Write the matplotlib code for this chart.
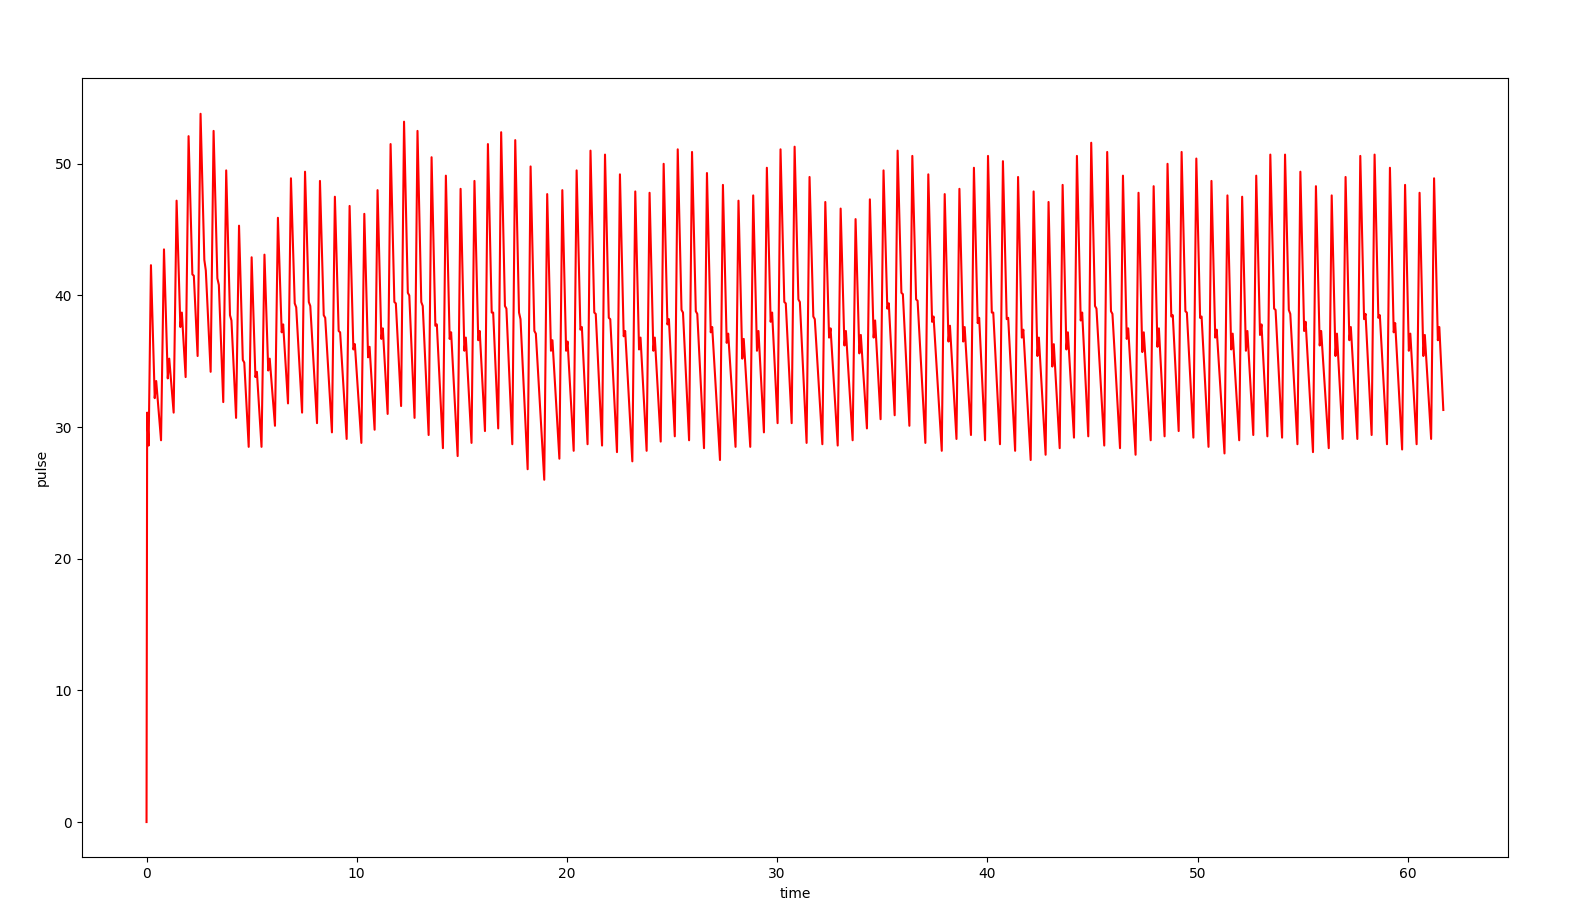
import matplotlib
matplotlib.use("Agg")
import matplotlib.pyplot as plt

# start of the recording (before first beat)
start_t = [0.0, 0.03, 0.10]
start_v = [0.0, 31.1, 28.6]

# one entry per beat: time and height of the systolic peak
peak_t = [0.21, 0.83, 1.43, 2.00, 2.57, 3.19, 3.79, 4.40, 5.00, 5.61,
          6.25, 6.87, 7.54, 8.25, 8.96, 9.66, 10.36, 10.99, 11.61, 12.25,
          12.89, 13.56, 14.24, 14.94, 15.60, 16.24, 16.87, 17.54, 18.27, 19.06,
          19.78, 20.46, 21.12, 21.81, 22.52, 23.25, 23.93, 24.60, 25.27, 25.95,
          26.66, 27.42, 28.16, 28.86, 29.51, 30.16, 30.83, 31.54, 32.29, 33.02,
          33.73, 34.41, 35.06, 35.73, 36.43, 37.19, 37.97, 38.67, 39.36, 40.03,
          40.74, 41.46, 42.20, 42.91, 43.58, 44.26, 44.94, 45.70, 46.45, 47.19,
          47.91, 48.57, 49.24, 49.94, 50.66, 51.42, 52.12, 52.79, 53.46, 54.16,
          54.89, 55.63, 56.38, 57.04, 57.74, 58.42, 59.15, 59.87, 60.56, 61.25]
peak_v = [42.3, 43.5, 47.2, 52.1, 53.8, 52.5, 49.5, 45.3, 42.9, 43.1,
          45.9, 48.9, 49.4, 48.7, 47.5, 46.8, 46.2, 48.0, 51.5, 53.2,
          52.5, 50.5, 49.1, 48.1, 48.7, 51.5, 52.4, 51.8, 49.8, 47.7,
          48.0, 49.5, 51.0, 50.7, 49.2, 47.9, 47.8, 50.0, 51.1, 50.9,
          49.3, 48.4, 47.2, 47.6, 49.7, 51.1, 51.3, 49.0, 47.1, 46.6,
          45.8, 47.3, 49.5, 51.0, 50.6, 49.2, 47.7, 48.1, 49.7, 50.6,
          50.2, 49.0, 47.9, 47.1, 48.4, 50.6, 51.6, 50.9, 49.1, 47.8,
          48.3, 50.0, 50.9, 50.4, 48.7, 47.6, 47.5, 49.1, 50.7, 50.7,
          49.4, 48.3, 47.6, 49.0, 50.6, 50.7, 49.7, 48.4, 47.8, 48.9]
# dicrotic notch and the small bump after it
notch_v = [32.2, 33.7, 37.6, 41.6, 42.7, 41.3, 38.5, 35.1, 33.8, 34.3,
           37.2, 39.4, 39.5, 38.5, 37.3, 35.9, 35.3, 36.7, 39.5, 40.2,
           39.5, 37.7, 36.7, 35.8, 36.6, 38.7, 39.2, 38.7, 37.3, 35.8,
           35.8, 37.4, 38.7, 38.3, 36.9, 35.9, 35.8, 37.8, 38.9, 38.8,
           37.2, 36.4, 35.2, 35.8, 38.0, 39.5, 39.7, 38.4, 36.8, 36.2,
           35.6, 36.8, 39.0, 40.2, 39.7, 38.0, 36.5, 36.5, 37.9, 38.7,
           38.2, 36.8, 35.4, 34.6, 35.9, 38.1, 39.2, 38.8, 36.7, 35.7,
           36.1, 38.4, 38.8, 38.3, 36.8, 35.9, 35.8, 37.0, 39.0, 38.9,
           37.3, 36.2, 35.4, 36.6, 38.2, 38.3, 37.2, 35.8, 35.4, 36.6]
bump_v = [33.5, 35.2, 38.7, 41.5, 41.9, 40.8, 38.1, 34.9, 34.2, 35.2,
          37.8, 39.1, 39.2, 38.3, 37.2, 36.3, 36.1, 37.5, 39.4, 40.0,
          39.2, 37.8, 37.2, 36.8, 37.3, 38.7, 39.0, 38.2, 37.1, 36.6,
          36.5, 37.6, 38.6, 38.2, 37.3, 36.8, 36.8, 38.2, 38.7, 38.6,
          37.6, 37.1, 36.7, 37.3, 38.7, 39.4, 39.5, 38.2, 37.5, 37.3,
          37.0, 38.1, 39.4, 40.1, 39.6, 38.4, 37.7, 37.6, 38.3, 38.7,
          38.3, 37.4, 36.8, 36.3, 37.2, 38.7, 39.0, 38.6, 37.5, 37.2,
          37.5, 38.5, 38.7, 38.4, 37.4, 37.1, 37.3, 37.8, 38.9, 38.6,
          38.0, 37.3, 37.1, 37.6, 38.6, 38.5, 37.9, 37.1, 37.0, 37.6]
# minimum after each beat (the last beat is cut off)
trough_v = [29.0, 31.1, 33.8, 35.4, 34.2, 31.9, 30.7, 28.5, 28.5, 30.1,
            31.8, 31.1, 30.3, 29.6, 29.1, 28.8, 29.8, 31.0, 31.6, 30.7,
            29.4, 28.4, 27.8, 28.8, 29.7, 29.9, 28.7, 26.8, 26.0, 27.6,
            28.2, 28.7, 28.6, 28.1, 27.4, 28.2, 28.9, 29.3, 29.0, 28.4,
            27.5, 28.5, 28.5, 29.6, 30.3, 30.3, 28.8, 28.7, 28.6, 29.0,
            29.9, 30.6, 30.9, 30.1, 28.8, 28.2, 29.1, 29.4, 29.0, 28.7,
            28.2, 27.5, 27.9, 28.4, 29.2, 29.3, 28.6, 28.4, 27.9, 29.0,
            29.3, 29.7, 29.2, 28.5, 28.0, 29.0, 29.4, 29.3, 29.2, 28.7,
            28.1, 28.4, 29.1, 29.1, 29.4, 28.7, 28.3, 28.7, 29.1]
end_t = 61.69
end_v = 31.3

notch_delay = 0.18
bump_delay = 0.25
rise_time = 0.14

time = list(start_t)
pulse = list(start_v)
for i in range(len(peak_t)):
    time += [peak_t[i], peak_t[i] + notch_delay, peak_t[i] + bump_delay]
    pulse += [peak_v[i], notch_v[i], bump_v[i]]
    if i < len(trough_v):
        time.append(peak_t[i + 1] - rise_time)
        pulse.append(trough_v[i])
time.append(end_t)
pulse.append(end_v)

fig = plt.figure(figsize=(15.71, 9.22), dpi=100)
plt.subplots_adjust(left=0.052, right=0.96, top=0.915, bottom=0.07)
plt.plot(time, pulse, color="red")
plt.xlabel("time")
plt.ylabel("pulse")
plt.savefig("out.png")
